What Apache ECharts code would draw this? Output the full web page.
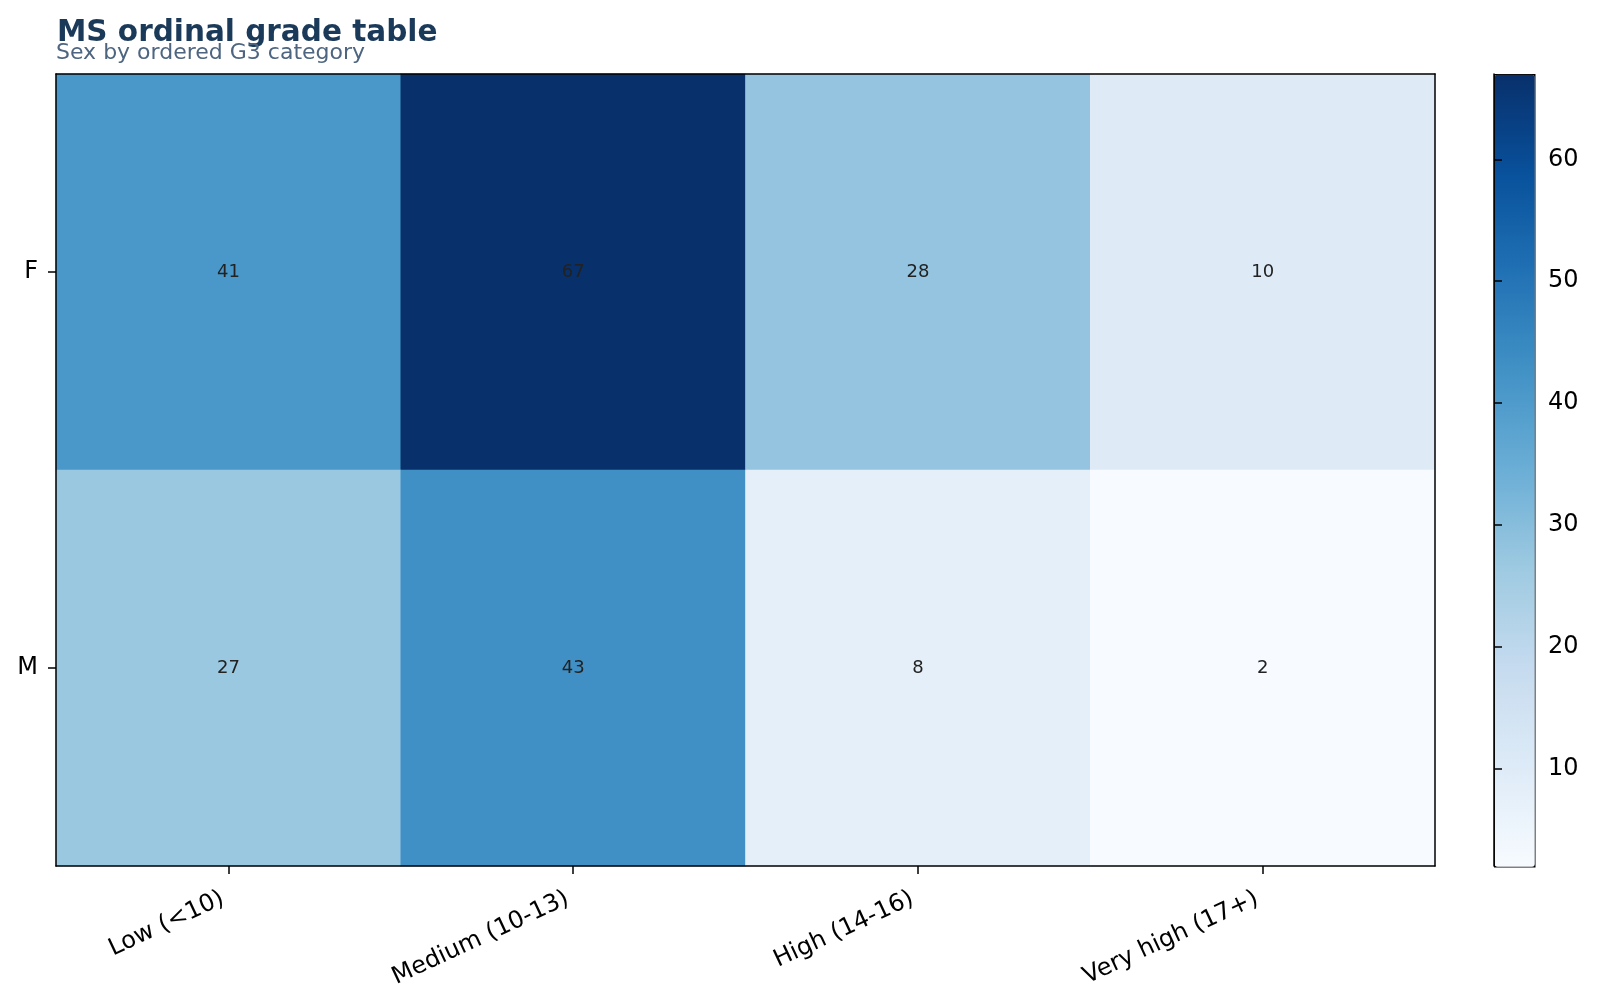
<!DOCTYPE html>
<html>
<head>
<meta charset="utf-8">
<script src="https://cdn.jsdelivr.net/npm/echarts@6/dist/echarts.min.js"></script>
<style>
  html, body { margin: 0; padding: 0; background: #fff; }
  #chart { width: 1600px; height: 1005px; }
</style>
</head>
<body>
<div id="chart"></div>
<script>
const grades = ['Low (<10)', 'Medium (10-13)', 'High (14-16)', 'Very high (17+)']
const sexes = ['F', 'M']
const femaleCounts = [41, 67, 28, 10]
const maleCounts = [27, 43, 8, 2]
const colorbarTicks = [10, 20, 30, 40, 50, 60]

// matplotlib "Blues"
const blues = ['#f7fbff', '#deebf7', '#c6dbef', '#9ecae1', '#6baed6', '#4292c6', '#2171b5', '#08519c', '#08306b']

const font = 'DejaVu Sans'
const rows = [femaleCounts, maleCounts]
const cells = []
rows.forEach((vals, r) => {
  vals.forEach((v, c) => cells.push([c, r, v]))
})
const allVals = cells.map(d => d[2])
const vmin = Math.min(...allVals)
const vmax = Math.max(...allVals)

const plot = { left: 56, top: 74, width: 1379, height: 792 }
const bar = { left: 1494, top: 74, width: 40, height: 792 }

const myChart = echarts.init(document.getElementById('chart'))
const option = {
  backgroundColor: '#fff',
  animation: false,
  title: [
    {
      text: 'MS ordinal grade table',
      left: 52, top: 13,
      textStyle: { fontFamily: font, fontSize: 29.5, fontWeight: 'bold', color: '#1b3a5a' }
    },
    {
      text: 'Sex by ordered G3 category',
      left: 51, top: 37,
      textStyle: { fontFamily: font, fontSize: 22, fontWeight: 'normal', color: '#4d6580' }
    }
  ],
  grid: [
    Object.assign({}, plot),
    Object.assign({}, bar)
  ],
  xAxis: [
    {
      type: 'category', gridIndex: 0, data: grades, z: 10,
      axisLine: { lineStyle: { color: '#000', width: 1.5 } },
      axisTick: { show: true, inside: false, alignWithLabel: true, length: 8, lineStyle: { color: '#000', width: 1.5 } },
      axisLabel: { rotate: 25, margin: 29, padding: [0, 6, 0, 0], fontFamily: font, fontSize: 24, color: '#000' },
      splitLine: { show: false }
    },
    {
      type: 'category', gridIndex: 0, data: grades, position: 'top', z: 10,
      axisLine: { lineStyle: { color: '#000', width: 1.5 } },
      axisTick: { show: false }, axisLabel: { show: false }
    },
    { type: 'value', gridIndex: 1, show: false, min: 0, max: 1 }
  ],
  yAxis: [
    {
      type: 'category', gridIndex: 0, data: sexes, inverse: true, z: 10,
      axisLine: { lineStyle: { color: '#000', width: 1.5 } },
      axisTick: { show: true, inside: false, alignWithLabel: true, length: 8, lineStyle: { color: '#000', width: 1.5 } },
      axisLabel: { margin: 18, padding: [8, 0, 0, 0], fontFamily: font, fontSize: 24, color: '#000' },
      splitLine: { show: false }
    },
    {
      type: 'category', gridIndex: 0, data: sexes, inverse: true, position: 'right', z: 10,
      axisLine: { lineStyle: { color: '#000', width: 1.5 } },
      axisTick: { show: false }, axisLabel: { show: false }
    },
    {
      type: 'value', gridIndex: 1, position: 'right', min: vmin, max: vmax, z: 10,
      axisLine: { show: true, lineStyle: { color: '#000', width: 1.5 } },
      axisTick: { show: true, length: 8, customValues: colorbarTicks, lineStyle: { color: '#000', width: 1.5 } },
      axisLabel: { margin: 14, padding: [6, 0, 0, 0], customValues: colorbarTicks, fontFamily: font, fontSize: 24, color: '#000' },
      splitLine: { show: false }
    }
  ],
  visualMap: {
    type: 'continuous',
    seriesIndex: 0,
    min: vmin, max: vmax,
    calculable: false,
    hoverLink: false,
    left: bar.left, top: bar.top,
    itemWidth: bar.width, itemHeight: bar.height,
    padding: 0,
    borderColor: '#000', borderWidth: 1.5,
    text: null,
    inRange: { color: blues }
  },
  series: [
    {
      type: 'heatmap',
      xAxisIndex: 0, yAxisIndex: 0,
      data: cells,
      label: {
        show: true,
        formatter: p => String(p.value[2]),
        fontFamily: font, fontSize: 18, color: '#222'
      },
      itemStyle: { borderWidth: 0 },
      emphasis: { disabled: true }
    },
    {
      type: 'line', xAxisIndex: 2, yAxisIndex: 2, data: []
    }
  ]
}

option && myChart.setOption(option)
</script>
</body>
</html>
